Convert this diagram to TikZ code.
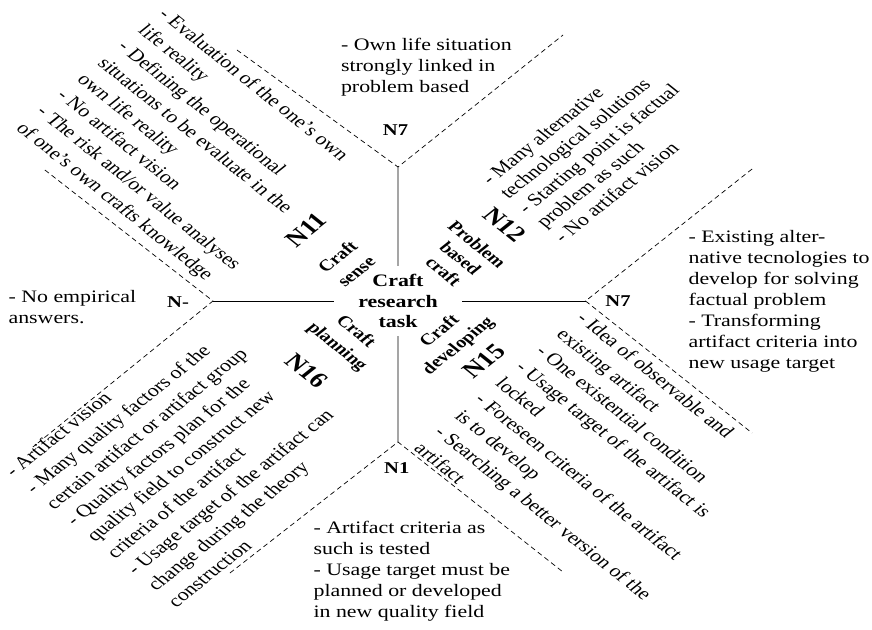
\documentclass[tikz,border=0pt]{standalone}
\usepackage{fontspec}
\setmainfont{Liberation Serif}

\begin{document}
\begin{tikzpicture}[x=1pt,y=1pt,xscale=1.25,transform shape,
    txt/.style={inner sep=0pt,align=left,anchor=west,font=\fontsize{17.5}{21}\selectfont},
    lst/.style={txt,font=\fontsize{17.5}{23}\selectfont},
    lbl/.style={inner sep=0pt,align=center,font=\fontsize{16}{21}\selectfont\bfseries},
    num/.style={inner sep=0pt,font=\fontsize{22}{24}\selectfont\bfseries},
    gap/.style={line width=0.7pt,dash pattern=on 5pt off 3.5pt}]
    \useasboundingbox (-318.4,-328) rectangle (379.2,301);

    \begin{scope}[line width=0.9pt]

        % centre and the four ends of the cross
        \node [lbl,font=\fontsize{17.5}{20.5}\selectfont\bfseries,inner xsep=19pt,inner ysep=8pt]
            (task) at (0,0) {Craft\\research\\task};
        \coordinate (top)    at (0,134);
        \coordinate (right)  at (150,0);
        \coordinate (bottom) at (0,-141);
        \coordinate (left)   at (-148,0);

        \foreach \e in {top,right,bottom,left}{%
            \draw (task) -- (\e);
        }

        % dashed branches
        \coordinate (top-l)    at (-128.8,251);
        \coordinate (top-r)    at (132,266);
        \coordinate (right-u)  at (283.2,132);
        \coordinate (right-d)  at (283.2,-132);
        \coordinate (bottom-l) at (-134.4,-272);
        \coordinate (bottom-r) at (132,-271);
        \coordinate (left-u)   at (-282.4,131);
        \coordinate (left-d)   at (-292,-146);

        \draw [gap] (top-l) -- (top) -- (top-r);
        \draw [gap] (right-u) -- (right) -- (right-d);
        \draw [gap] (bottom-l) -- (bottom) -- (bottom-r);
        \draw [gap] (left-u) -- (left) -- (left-d);

        % labels at the ends
        \node [lbl,font=\fontsize{16.5}{18}\selectfont\bfseries] (n7t) at (-2,171)  {N7};
        \node [lbl,font=\fontsize{16.5}{18}\selectfont\bfseries] (n7r) at (176,0)   {N7};
        \node [lbl,font=\fontsize{16.5}{18}\selectfont\bfseries] (n1)  at (-1,-167) {N1};
        \node [lbl,font=\fontsize{16.5}{18}\selectfont\bfseries] (nx)  at (-176,-1) {N-};

        \node [txt] (own) at (-46,234)
            {- Own life situation\\strongly linked in\\problem based};
        \node [txt] (alt) at (232,0)
            {- Existing alter-\\native tecnologies to\\develop for solving\\factual problem\\- Transforming\\artifact criteria into\\new usage target};
        \node [txt] (crit) at (-68,-270)
            {- Artifact criteria as\\such is tested\\- Usage target must be\\planned or developed\\in new quality field};
        \node [txt] (emp) at (-312,-6)
            {- No empirical\\answers.};

        % quadrants
        \node [num,rotate=45]  (n11) at (-73.6,71)  {N11};
        \node [num,rotate=-45] (n12) at (85.6,76)   {N12};
        \node [num,rotate=-45] (n16) at (-73.2,-70) {N16};
        \node [num,rotate=45]  (n15) at (68.8,-60.5) {N15};

        \node [lbl,rotate=45]  (sense)   at (-41,37)     {Craft\\sense};
        \node [lbl,rotate=-45,font=\fontsize{16}{19}\selectfont\bfseries]
            (problem) at (50,43) {Problem\\based\\craft};
        \node [lbl,rotate=-45] (plan)    at (-41.6,-38.5) {Craft\\planning};
        \node [lbl,rotate=45]  (devel)   at (41.2,-37.8)  {Craft\\developing};

        \node [lst,rotate=-45] (list-tl) at (-246.4,232)
            {- Evaluation of the one’s own\\life reality\\- Defining the operational\\situations to be evaluate in the\\own life reality\\- No artifact vision\\- The risk and/or value analyses\\of one’s own crafts knowledge};
        \node [lst,rotate=45,font=\fontsize{17.5}{20.5}\selectfont] (list-tr) at (98.4,90.5)
            {- Many alternative\\technological solutions\\- Starting point is factual\\problem as such\\- No artifact vision};
        \node [lst,rotate=45] (list-bl) at (-247,-238)
            {- Artifact vision\\- Many quality factors of the\\certain artifact or artifact group\\- Quality factors plan for the\\quality field to construct new\\criteria of the artifact\\- Usage target of the artifact can\\change during the theory\\construction};
        \node [lst,rotate=-45] (list-br) at (81.2,-79)
            {- Idea of observable and\\existing artifact\\- One existential condition\\- Usage target of the artifact is\\locked\\- Foreseen criteria of the artifact\\is to develop\\- Searching a better version of the\\artifact};
    \end{scope}
\end{tikzpicture}
\end{document}
